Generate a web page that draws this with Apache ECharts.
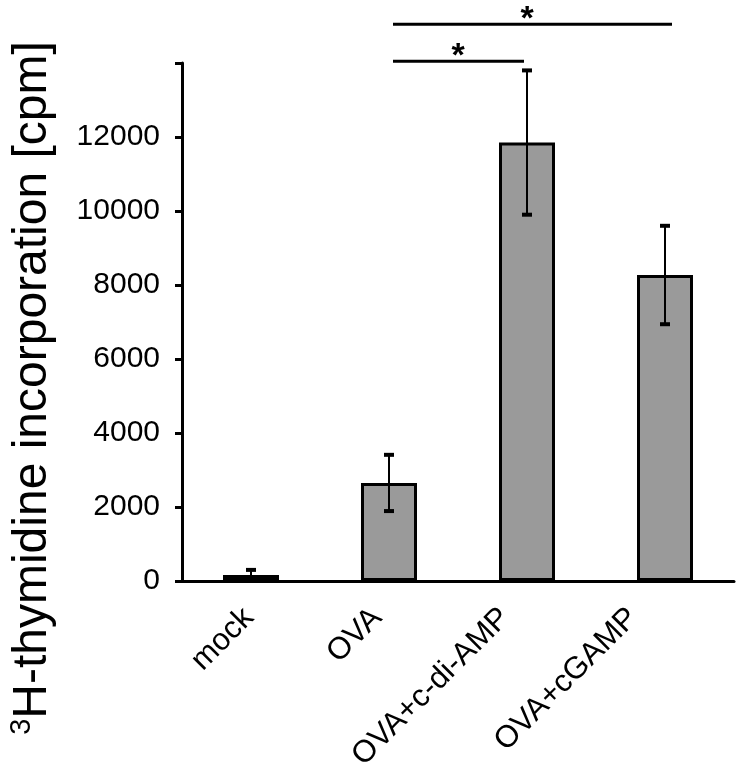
<!DOCTYPE html>
<html>
<head>
<meta charset="utf-8">
<script src="https://cdn.jsdelivr.net/npm/echarts@6/dist/echarts.min.js"></script>
<style>html,body{margin:0;padding:0;background:#fff}#c{width:738px;height:777px}</style>
</head>
<body>
<div id="c"></div>
<script>
var categories = ['mock', 'OVA', 'OVA+c-di-AMP', 'OVA+cGAMP'];
var means = [160, 2650, 11850, 8270];
var errors = [140, 760, 1950, 1330];
var yTicks = [0, 2000, 4000, 6000, 8000, 10000, 12000, 14000];
var sigFrom = [1, 1];
var sigTo = [2, 3];
var sigLevel = [14050, 15050];
var sigText = ['*', '*'];

var FONT = '"Liberation Sans", Arial, sans-serif';
var chart = echarts.init(document.getElementById('c'));
var option = {
  animation: false,
  backgroundColor: '#fff',
  grid: [
    {left: 182, right: 4, top: 63, bottom: 196, containLabel: false},
    {left: 185, width: 512, top: 63, bottom: 196, containLabel: false}
  ],
  xAxis: [
    {
      type: 'category',
      gridIndex: 0,
      data: categories,
      axisLine: {show: true, lineStyle: {color: '#000', width: 3}},
      axisTick: {show: false},
      axisLabel: {show: false}
    },
    {
      type: 'category',
      gridIndex: 1,
      data: categories,
      axisLine: {show: false},
      axisTick: {show: false},
      axisLabel: {rotate: 45, fontSize: 31, color: '#000', fontFamily: FONT, margin: 32, interval: 0}
    }
  ],
  yAxis: [
    {
      type: 'value',
      gridIndex: 0,
      min: yTicks[0],
      max: yTicks[yTicks.length - 1],
      interval: yTicks[1] - yTicks[0],
      splitLine: {show: false},
      axisLine: {show: true, lineStyle: {color: '#000', width: 3}},
      axisTick: {show: true, length: 7, lineStyle: {color: '#000', width: 3}},
      axisLabel: {
        fontSize: 30, color: '#000', fontFamily: FONT, margin: 22,
        formatter: function (v) { return v === yTicks[yTicks.length - 1] ? '' : String(v); }
      }
    },
    {
      type: 'value',
      gridIndex: 1,
      min: yTicks[0],
      max: yTicks[yTicks.length - 1],
      show: false
    }
  ],
  series: [
    {
      type: 'bar',
      xAxisIndex: 0,
      yAxisIndex: 0,
      data: means,
      barWidth: 56,
      itemStyle: {color: '#9a9a9a', borderColor: '#000', borderWidth: 3},
      z: 2
    },
    {
      type: 'custom',
      xAxisIndex: 0,
      yAxisIndex: 0,
      z: 5,
      data: categories.map(function (c, i) { return [i, means[i], errors[i]]; }),
      encode: {x: 0, y: 1},
      renderItem: function (params, api) {
        var x = api.value(0), m = api.value(1), e = api.value(2);
        var top = api.coord([x, m + e]);
        var bot = api.coord([x, m - e]);
        var cw = 5;
        return {
          type: 'group',
          children: [
            {type: 'line', shape: {x1: top[0], y1: top[1], x2: bot[0], y2: bot[1]}, style: {stroke: '#000', lineWidth: 2}},
            {type: 'line', shape: {x1: top[0] - cw, y1: top[1], x2: top[0] + cw, y2: top[1]}, style: {stroke: '#000', lineWidth: 4}},
            {type: 'line', shape: {x1: bot[0] - cw, y1: bot[1], x2: bot[0] + cw, y2: bot[1]}, style: {stroke: '#000', lineWidth: 4}}
          ]
        };
      }
    }
  ]
};
chart.setOption(option);

var graphics = [];
for (var i = 0; i < sigFrom.length; i++) {
  var p1 = chart.convertToPixel({gridIndex: 0}, [sigFrom[i], sigLevel[i]]);
  var p2 = chart.convertToPixel({gridIndex: 0}, [sigTo[i], sigLevel[i]]);
  graphics.push({
    type: 'line',
    shape: {x1: p1[0] + 4, y1: p1[1], x2: p2[0] + (i === 1 ? 7 : -3), y2: p2[1]},
    style: {stroke: '#000', lineWidth: 3}
  });
  graphics.push({
    type: 'text',
    x: (p1[0] + p2[0]) / 2,
    y: p1[1] - 5,
    style: {text: sigText[i], font: 'bold 34px ' + FONT, fill: '#000', textAlign: 'center', textVerticalAlign: 'middle'}
  });
}
graphics.push({
  type: 'text',
  x: 33,
  y: 388,
  rotation: Math.PI / 2,
  style: {
    text: '{sup|3}{main|H-thymidine incorporation [cpm]}',
    textAlign: 'center',
    textVerticalAlign: 'middle',
    fill: '#000',
    rich: {
      sup: {fontSize: 29, fontFamily: FONT, fill: '#000', verticalAlign: 'top', lineHeight: 52},
      main: {fontSize: 48, fontFamily: FONT, fill: '#000', lineHeight: 52}
    }
  }
});
chart.setOption({graphic: graphics});
</script>
</body>
</html>
